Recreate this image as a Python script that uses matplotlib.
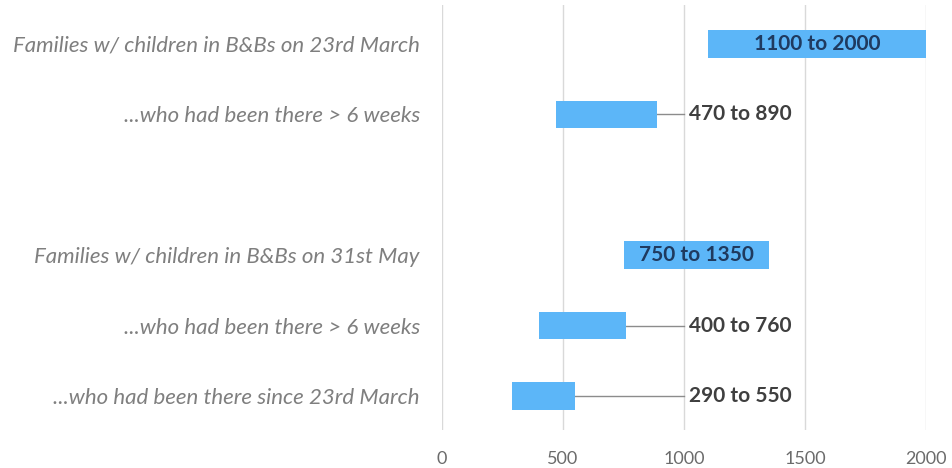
import matplotlib
matplotlib.use("Agg")
import matplotlib.pyplot as plt

categories = [
    "Families w/ children in B&Bs on 23rd March",
    "...who had been there > 6 weeks",
    "",
    "Families w/ children in B&Bs on 31st May",
    "...who had been there > 6 weeks",
    "...who had been there since 23rd March",
]
lows = [1100, 470, None, 750, 400, 290]
highs = [2000, 890, None, 1350, 760, 550]
inside = [True, False, None, True, False, False]
xticks = [0, 500, 1000, 1500, 2000]
label_x = 1000

FONT = "Lato"
fig = plt.figure(figsize=(9.52, 4.68), dpi=100)
ax = fig.add_axes([442/952, 1-430/468, (926-442)/952, (430-5)/468])

bar_color = "#5CB6F8"
for i, (lo, hi, ins) in enumerate(zip(lows, highs, inside)):
    if lo is None:
        continue
    ax.barh(i, hi - lo, left=lo, height=0.39, color=bar_color, zorder=3)
    txt = f"{lo} to {hi}"
    if ins:
        ax.text((lo + hi) / 2, i, txt, ha="center", va="center", fontsize=15,
                fontweight="bold", color="#1F3A5F", family=FONT, zorder=4)
    else:
        ax.plot([hi, label_x], [i, i], color="#8C8C8C", lw=1, zorder=2)
        ax.text(label_x + 20, i, txt, ha="left", va="center", fontsize=15,
                fontweight="bold", color="#3F3F3F", family=FONT, zorder=4)

ax.set_xlim(0, 2000)
ax.set_ylim(5.48, -0.55)
ax.set_xticks(xticks)
ax.set_xticklabels([str(t) for t in xticks], color="#6B6B6B", fontsize=13, family=FONT)
ax.tick_params(axis="x", length=0, pad=15)
ax.set_yticks(range(len(categories)))
ax.set_yticklabels(categories, fontstyle="italic", color="#7F7F7F", fontsize=16, family=FONT)
ax.tick_params(axis="y", length=0, pad=16)
ax.grid(axis="x", color="#D9D9D9", lw=1, zorder=0)
ax.set_axisbelow(True)
for s in ax.spines.values():
    s.set_visible(False)

fig.savefig("out.png", dpi=100)
